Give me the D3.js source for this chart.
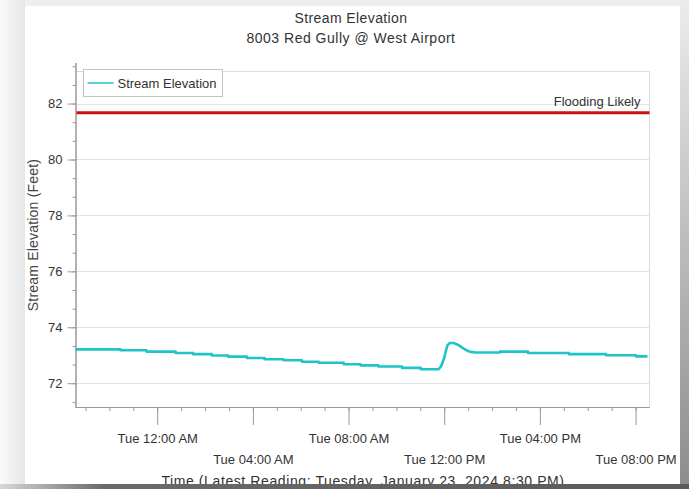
<!DOCTYPE html>
<html>
<head>
<meta charset="utf-8">
<script src="https://cdn.jsdelivr.net/npm/d3@7"></script>
<style>
  html, body { margin: 0; padding: 0; background: #f0f0f0; }
  svg { display: block; font-family: "Liberation Sans", Arial, sans-serif; }
</style>
</head>
<body>
<div id="chart"></div>
<script>
// readings (Mon Jan 22 -> Tue Jan 23 2024); repeated times mark the gauge's small steps
const readingTimes = [
  '2024-01-22 20:35', '2024-01-22 22:28', '2024-01-22 22:28', '2024-01-22 23:33', '2024-01-22 23:33',
  '2024-01-23 00:46', '2024-01-23 00:46', '2024-01-23 01:30', '2024-01-23 01:30',
  '2024-01-23 02:17', '2024-01-23 02:17', '2024-01-23 02:58', '2024-01-23 02:58',
  '2024-01-23 03:45', '2024-01-23 03:45', '2024-01-23 04:29', '2024-01-23 04:29',
  '2024-01-23 05:17', '2024-01-23 05:17', '2024-01-23 06:03', '2024-01-23 06:03',
  '2024-01-23 06:45', '2024-01-23 06:45', '2024-01-23 07:48', '2024-01-23 07:48',
  '2024-01-23 08:30', '2024-01-23 08:30', '2024-01-23 09:15', '2024-01-23 09:15',
  '2024-01-23 10:14', '2024-01-23 10:14', '2024-01-23 11:01', '2024-01-23 11:01',
  '2024-01-23 11:46', '2024-01-23 11:52', '2024-01-23 11:56', '2024-01-23 12:00',
  '2024-01-23 12:04', '2024-01-23 12:08', '2024-01-23 12:14', '2024-01-23 12:24',
  '2024-01-23 12:36', '2024-01-23 12:49', '2024-01-23 13:00', '2024-01-23 13:07',
  '2024-01-23 13:19', '2024-01-23 14:20', '2024-01-23 14:20', '2024-01-23 15:30',
  '2024-01-23 15:30', '2024-01-23 17:13', '2024-01-23 17:13', '2024-01-23 18:46',
  '2024-01-23 18:46', '2024-01-23 20:01', '2024-01-23 20:01', '2024-01-23 20:30'
];
const readingValues = [
  73.21, 73.21, 73.18, 73.18, 73.13,
  73.13, 73.08, 73.08, 73.04,
  73.04, 72.99, 72.99, 72.95,
  72.95, 72.90, 72.90, 72.86,
  72.86, 72.82, 72.82, 72.77,
  72.77, 72.73, 72.73, 72.68,
  72.68, 72.64, 72.64, 72.60,
  72.60, 72.55, 72.55, 72.50,
  72.50, 72.60, 72.75, 72.90,
  73.15, 73.35, 73.44, 73.44,
  73.36, 73.24, 73.15, 73.12,
  73.10, 73.10, 73.13, 73.13,
  73.08, 73.08, 73.04, 73.04,
  73.00, 73.00, 72.96, 72.96
];
const floodLevel = 81.67;
const floodLabel = 'Flooding Likely';
const timeDomain = ['2024-01-22 20:35', '2024-01-23 20:35'];
const elevationDomain = [71.15, 83.45];
const elevationTicks = [72, 74, 76, 78, 80, 82];
const chartTitle = 'Stream Elevation';
const chartSubtitle = '8003 Red Gully @ West Airport';
const yTitle = 'Stream Elevation (Feet)';
const xTitle = 'Time (Latest Reading: Tuesday, January 23, 2024 8:30 PM)';
const seriesName = 'Stream Elevation';

const W = 689, H = 489;
const plot = { left: 75.5, right: 649.5, top: 63, bottom: 407 };
const parse = d3.timeParse('%Y-%m-%d %H:%M');

const svg = d3.select('#chart').append('svg')
  .attr('width', W).attr('height', H);

// screenshot backdrop + card
const defs = svg.append('defs');
const gRight = defs.append('linearGradient').attr('id', 'gRight')
  .attr('x1', 0).attr('y1', 0).attr('x2', 0).attr('y2', 1);
gRight.append('stop').attr('offset', 0).attr('stop-color', '#ececec');
gRight.append('stop').attr('offset', 1).attr('stop-color', '#8c8c8c');
const gBottom = defs.append('linearGradient').attr('id', 'gBottom')
  .attr('x1', 0).attr('y1', 0).attr('x2', 1).attr('y2', 0);
gBottom.append('stop').attr('offset', 0).attr('stop-color', '#d8d8d8');
gBottom.append('stop').attr('offset', 0.15).attr('stop-color', '#6a6a6a');
gBottom.append('stop').attr('offset', 1).attr('stop-color', '#5a5a5a');
const gLeft = defs.append('linearGradient').attr('id', 'gLeft')
  .attr('x1', 0).attr('y1', 0).attr('x2', 1).attr('y2', 0);
gLeft.append('stop').attr('offset', 0).attr('stop-color', '#fafafa');
gLeft.append('stop').attr('offset', 1).attr('stop-color', '#e6e6e6');

svg.append('rect').attr('width', W).attr('height', H).attr('fill', '#eeeeee');
svg.append('rect').attr('x', 0).attr('y', 0).attr('width', 25).attr('height', H).attr('fill', 'url(#gLeft)');
svg.append('rect').attr('x', 680).attr('y', 0).attr('width', 9).attr('height', H).attr('fill', 'url(#gRight)');
svg.append('rect').attr('x', 25).attr('y', 6).attr('width', 655).attr('height', 478).attr('fill', '#fff');

const x = d3.scaleTime()
  .domain(timeDomain.map(parse))
  .range([plot.left, plot.right]);
const y = d3.scaleLinear()
  .domain(elevationDomain)
  .range([plot.bottom, plot.top]);

// titles
svg.append('text').attr('x', 351).attr('y', 23).attr('text-anchor', 'middle')
  .style('font-size', '14px').style('letter-spacing', '0.4px').style('fill', '#333').text(chartTitle);
svg.append('text').attr('x', 351).attr('y', 43).attr('text-anchor', 'middle')
  .style('font-size', '14px').style('letter-spacing', '0.5px').style('fill', '#333').text(chartSubtitle);

// gridlines
svg.append('g').selectAll('line').data(elevationTicks).join('line')
  .attr('x1', plot.left).attr('x2', plot.right)
  .attr('y1', d => Math.round(y(d)) + 0.5).attr('y2', d => Math.round(y(d)) + 0.5)
  .attr('stroke', '#e3e3e3');

// plot frame (top/right)
svg.append('path')
  .attr('d', `M${plot.left},${plot.top + 8.5}H${plot.right}V${plot.bottom}`)
  .attr('fill', 'none').attr('stroke', '#dcdcdc');

// y axis: major + minor ticks
const minorY = d3.range(-1, 18).map(i => 72 + i * 2 / 3)
  .filter(v => v > elevationDomain[0] && v < elevationDomain[1]);
const yMinor = svg.append('g').attr('transform', `translate(${plot.left},0)`)
  .call(d3.axisLeft(y).tickValues(minorY).tickSize(3).tickFormat(''));
const yAxis = svg.append('g').attr('transform', `translate(${plot.left},0)`)
  .call(d3.axisLeft(y).tickValues(elevationTicks).tickSize(8).tickPadding(5).tickFormat(d3.format('d')));
[yMinor, yAxis].forEach(g => {
  g.select('.domain').attr('stroke', '#999').attr('d', `M0.5,${plot.top}V${plot.bottom}`);
  g.selectAll('.tick line').attr('stroke', '#999');
});
yAxis.selectAll('text').style('font-size', '13px').style('fill', '#333')
  .style('font-family', '"Liberation Sans", Arial, sans-serif');

svg.append('text')
  .attr('transform', `translate(38,${(plot.top + plot.bottom) / 2}) rotate(-90)`)
  .attr('text-anchor', 'middle')
  .style('font-size', '14px').style('letter-spacing', '0.2px').style('fill', '#444').text(yTitle);

// x axis: hourly minor, 4-hourly major with staggered labels
const hourTicks = x.ticks(d3.timeHour.every(1));
const majorX = x.ticks(d3.timeHour.every(4));
const xMinor = svg.append('g').attr('transform', `translate(0,${plot.bottom})`)
  .call(d3.axisBottom(x).tickValues(hourTicks).tickSize(4).tickFormat(''));
const xAxis = svg.append('g').attr('transform', `translate(0,${plot.bottom})`)
  .call(d3.axisBottom(x).tickValues(majorX).tickSize(18).tickFormat(d3.timeFormat('%a %I:%M %p')));
[xMinor, xAxis].forEach(g => {
  g.select('.domain').attr('stroke', '#999').attr('d', `M${plot.left},0.5H${plot.right}`);
  g.selectAll('.tick line').attr('stroke', '#999');
});
xAxis.selectAll('text')
  .attr('y', (d, i) => i % 2 === 0 ? 36 : 57)
  .attr('dy', 0)
  .style('font-size', '13px').style('fill', '#333')
  .style('font-family', '"Liberation Sans", Arial, sans-serif');

svg.append('text').attr('x', 363).attr('y', 485.5).attr('text-anchor', 'middle')
  .style('font-size', '14px').style('letter-spacing', '0.6px').style('fill', '#333').text(xTitle);

// flood threshold
svg.append('line')
  .attr('x1', plot.left + 1).attr('x2', plot.right)
  .attr('y1', y(floodLevel)).attr('y2', y(floodLevel))
  .attr('stroke', '#cc1010').attr('stroke-width', 3);
svg.append('text').attr('x', plot.right - 9).attr('y', y(floodLevel) - 7)
  .attr('text-anchor', 'end')
  .style('font-size', '13px').style('fill', '#333').text(floodLabel);

// series
const readings = readingTimes.map((t, i) => ({ t: parse(t), v: readingValues[i] }));
const line = d3.line().x(d => x(d.t)).y(d => y(d.v));
svg.append('path').datum(readings)
  .attr('d', line)
  .attr('fill', 'none')
  .attr('stroke', '#1fc4c6')
  .attr('stroke-width', 2.6)
  .attr('stroke-linejoin', 'round');

// legend
const legend = svg.append('g').attr('transform', 'translate(83.5,69.5)');
legend.append('rect').attr('width', 139).attr('height', 27)
  .attr('fill', '#fff').attr('stroke', '#c4c4c4');
legend.append('line').attr('x1', 4).attr('x2', 30).attr('y1', 13.5).attr('y2', 13.5)
  .attr('stroke', '#1fc4c6').attr('stroke-width', 1.5);
legend.append('text').attr('x', 34).attr('y', 18.5)
  .style('font-size', '13px').style('fill', '#333').text(seriesName);

// bottom shadow strip (drawn last, it clips the axis title like the screenshot)
svg.append('rect').attr('x', 0).attr('y', 484).attr('width', W).attr('height', 5).attr('fill', 'url(#gBottom)');
</script>
</body>
</html>
